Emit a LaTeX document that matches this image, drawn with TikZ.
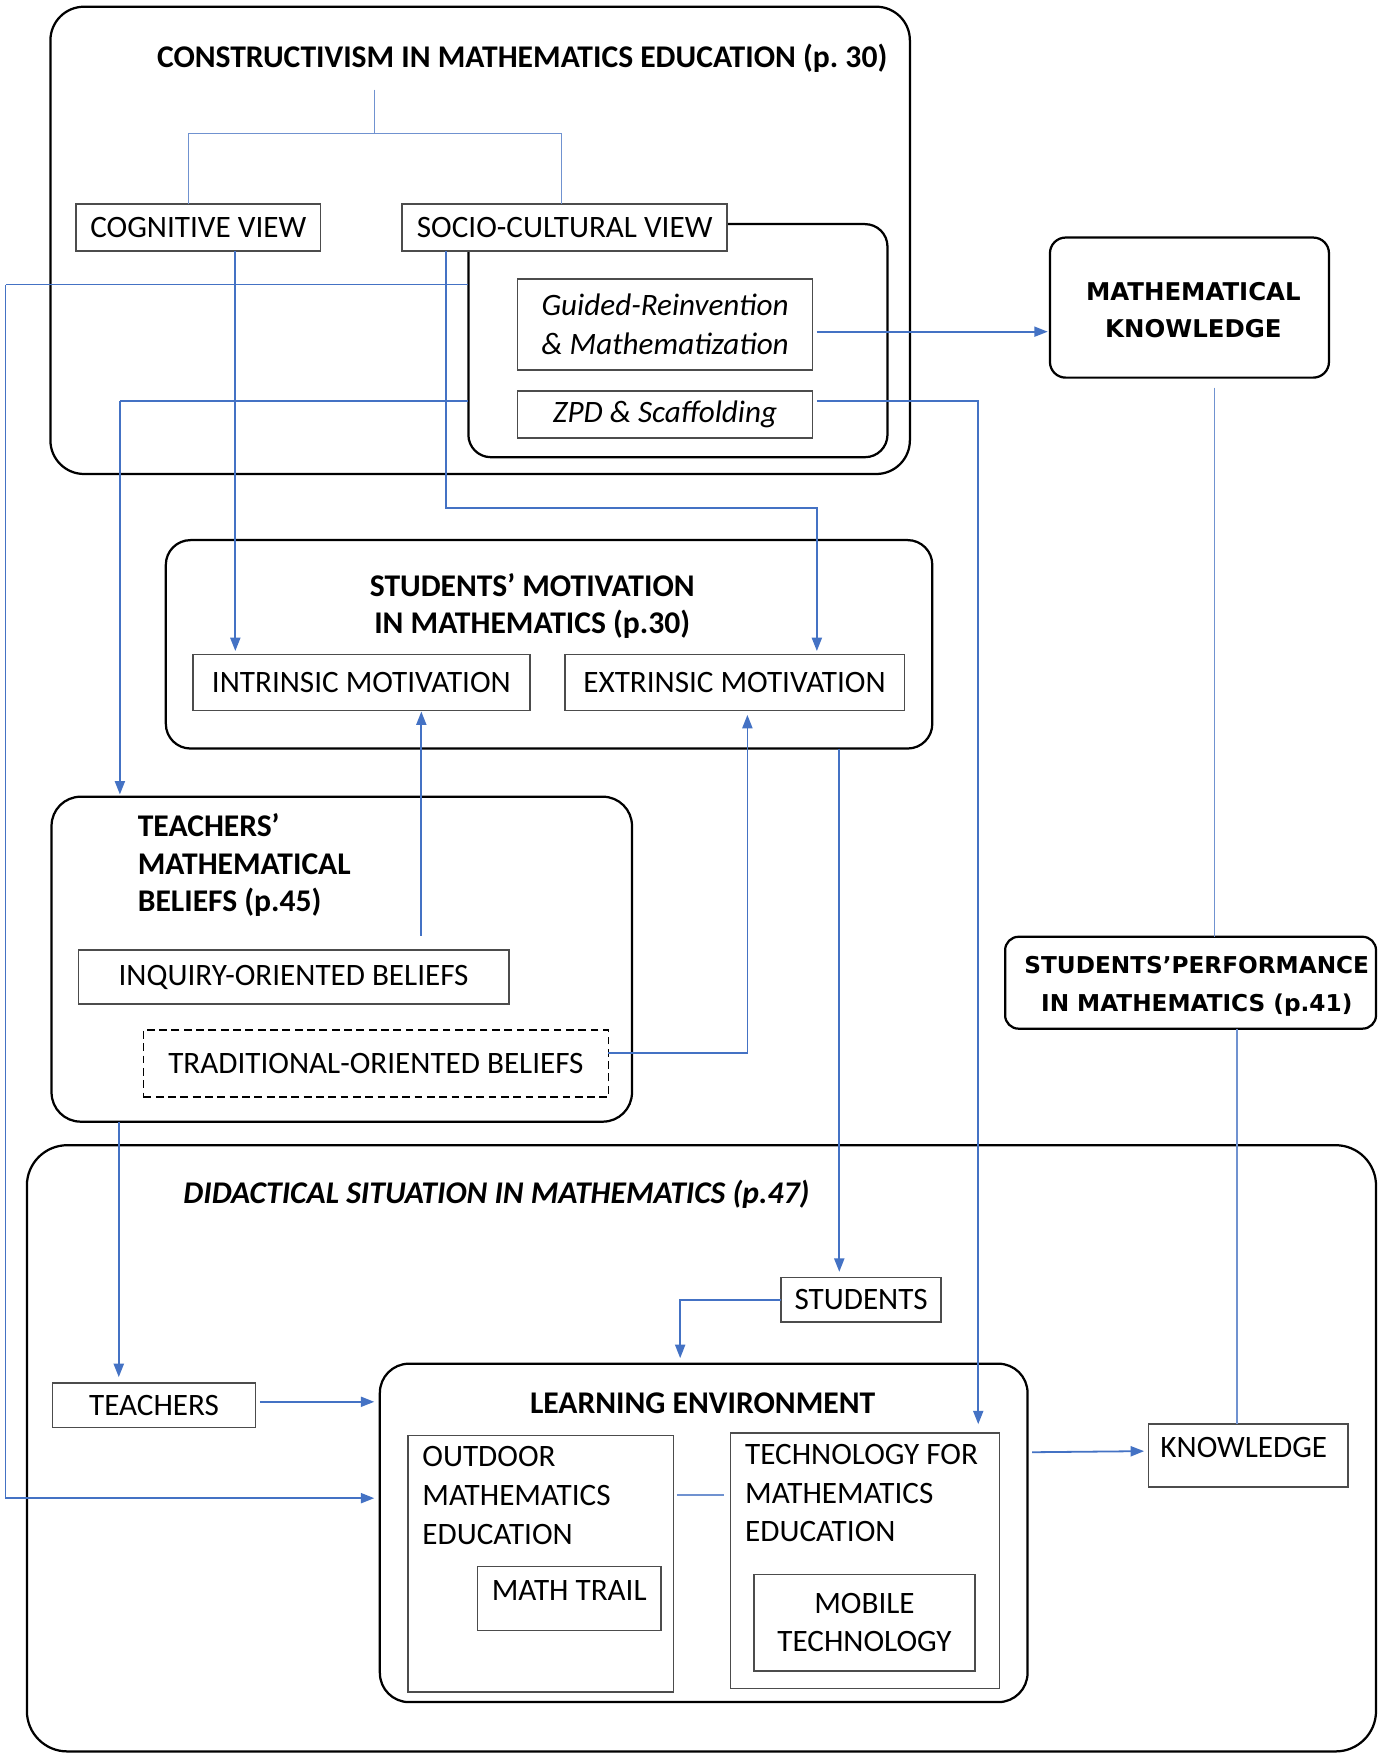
\documentclass[tikz,border=0pt]{standalone}
\usepackage{fontspec}
\setmainfont{Carlito}
\newfontfamily\widefont{DejaVu Sans}
\usetikzlibrary{arrows.meta,calc}
\definecolor{cblue}{RGB}{68,114,196}
\definecolor{lblue}{RGB}{112,146,208}
\newcommand\regfont{\fontsize{27.8}{34.5}\selectfont}
\newcommand\titfont{\fontsize{28.2}{33.5}\selectfont\bfseries}
\newcommand\widetit{\fontsize{20.7}{34}\selectfont\widefont\bfseries}
\newcommand\widemk{\fontsize{21.8}{33}\selectfont\widefont\bfseries}
\begin{document}
\begin{tikzpicture}[x=1pt,y=-1pt,
  every node/.style={inner sep=0pt,outer sep=0pt},
  rframe/.style={draw=black,line width=2pt,rounded corners=#1,anchor=north west},
  rframe/.default=20pt,
  sbox/.style={draw=black!70,line width=1.4pt,fill=white,anchor=north west,font=\regfont,align=center},
  txt/.style={font=\regfont},
  conn/.style={draw=cblue,line width=1.6pt},
  arr/.style={conn,-{Triangle[length=12pt,width=9pt]}},
  thinc/.style={draw=lblue,line width=1.1pt},
]
\fill[white] (0,0) rectangle (1233,1568);
\useasboundingbox (0,0) rectangle (1233,1568);

% ---------- frames ----------
\node[rframe=30pt,minimum width=767pt,minimum height=417pt] (constr) at (45,6) {};
\node[rframe=20pt,minimum width=374pt,minimum height=208pt] (inner) at (418,200) {};
\node[rframe=14pt,minimum width=249pt,minimum height=125pt] (mk) at (937,212) {};
\node[rframe=22pt,minimum width=684pt,minimum height=186pt] (motiv) at (148,482) {};
\node[rframe=26pt,minimum width=518pt,minimum height=290pt] (beliefs) at (46,711) {};
\node[rframe=12pt,minimum width=331pt,minimum height=82pt] (perf) at (897,836) {};
\node[rframe=36pt,minimum width=1204pt,minimum height=541pt] (didac) at (24,1022) {};
\node[rframe=26pt,minimum width=578pt,minimum height=302pt] (le) at (339,1217) {};

% ---------- titles ----------
\node[font=\titfont] (ctitle) at (466,52) {CONSTRUCTIVISM IN MATHEMATICS EDUCATION (p.~30)};
\node[font=\widemk,align=center] (mktext) at (1065,277) {MATHEMATICAL\\KNOWLEDGE};
\node[font=\titfont,align=center] (mtitle) at (475,541) {STUDENTS’ MOTIVATION\\IN MATHEMATICS (p.30)};
\node[font=\titfont,align=left,anchor=west] (btitle) at (123,772) {TEACHERS’\\MATHEMATICAL\\BELIEFS (p.45)};
\node[font=\widetit,align=center] (ptitle) at (1068,880) {STUDENTS’PERFORMANCE\\IN MATHEMATICS (p.41)};
\node[font=\titfont\itshape] (dtitle) at (443,1066) {DIDACTICAL SITUATION IN MATHEMATICS (p.47)};
\node[font=\titfont] (ltitle) at (627,1252) {LEARNING ENVIRONMENT};

% ---------- boxes ----------
\node[sbox,minimum width=218pt,minimum height=42pt] (cog) at (68,182) {COGNITIVE VIEW};
\node[sbox,minimum width=290pt,minimum height=42pt] (socio) at (359,182) {SOCIO-CULTURAL VIEW};
\node[sbox,minimum width=263pt,minimum height=81pt,font=\regfont\itshape] (guided) at (462,249) {Guided-Reinvention\\\& Mathematization};
\node[sbox,minimum width=263pt,minimum height=42pt,font=\regfont\itshape] (zpd) at (462,349) {ZPD \& Scaffolding};
\node[sbox,minimum width=301pt,minimum height=50pt] (intr) at (172,584) {INTRINSIC MOTIVATION};
\node[sbox,minimum width=303pt,minimum height=50pt] (extr) at (504,584) {EXTRINSIC MOTIVATION};
\node[sbox,minimum width=384pt,minimum height=48pt] (inq) at (70,848) {INQUIRY-ORIENTED BELIEFS};
\node[sbox,draw=black,line width=1.3pt,dash pattern=on 7pt off 4pt,minimum width=415pt,minimum height=60pt] (trad) at (128,919) {TRADITIONAL-ORIENTED BELIEFS};
\node[sbox,minimum width=143pt,minimum height=40pt] (students) at (697,1140) {STUDENTS};
\node[sbox,minimum width=181pt,minimum height=40pt] (teachers) at (47,1234) {TEACHERS};
\node[sbox,minimum width=237pt,minimum height=229pt] (outdoor) at (364,1281) {};
\node[sbox,minimum width=164pt,minimum height=57pt] (trail) at (426,1398) {};
\node[sbox,minimum width=240pt,minimum height=228pt] (tech) at (652,1279) {};
\node[sbox,minimum width=197pt,minimum height=86pt] (mobile) at (673,1405) {MOBILE\\TECHNOLOGY};
\node[sbox,minimum width=178pt,minimum height=56pt] (know) at (1025,1271) {};

\node[txt,align=left,anchor=north west] (outtext) at (377,1291) {OUTDOOR\\MATHEMATICS\\EDUCATION};
\node[txt] (trailtext) at (508,1419) {MATH TRAIL};
\node[txt,align=left,anchor=north west] (techtext) at (665,1289) {TECHNOLOGY FOR\\MATHEMATICS\\EDUCATION};
\node[txt] (knowtext) at (1110,1292) {KNOWLEDGE};

% ---------- helper coordinates ----------
\coordinate (tA) at (334,80);
\coordinate (tB) at (334,119);
\coordinate (cogL) at ([xshift=-9pt]cog.north);
\coordinate (socL) at ([xshift=-3pt]socio.north);
\coordinate (cogD) at ([xshift=33pt]cog.south);
\coordinate (socD) at ([xshift=-106pt]socio.south);
\coordinate (sbend) at (729,453);
\coordinate (guiO) at ([xshift=4pt,yshift=-6.5pt]guided.east);
\coordinate (zpdO) at ([xshift=4pt,yshift=12pt]zpd.east);
\coordinate (techI) at ([xshift=101pt]tech.north);
\coordinate (inA) at ([yshift=50pt]inner.west);
\coordinate (lft) at (5,254);
\coordinate (leI) at ([yshift=31pt]le.west);
\coordinate (inB) at ([yshift=-54pt]inner.west);
\coordinate (lb) at (107,358);
\coordinate (inqO) at ([xshift=114pt,yshift=13pt]inq.north);
\coordinate (tradO) at ([yshift=9pt]trad.east);
\coordinate (extI) at ([xshift=11.5pt]extr.south);
\coordinate (stuI) at ([xshift=-19.5pt]students.north);
\coordinate (mkO) at ([xshift=22.5pt,yshift=-9pt]mk.south);
\coordinate (knI) at ([xshift=-10pt]know.north);
\coordinate (teaI) at ([xshift=-31.5pt]teachers.north);
\coordinate (leT) at ([xshift=-21pt]le.north);
\coordinate (teaO) at ([xshift=4pt,yshift=3pt]teachers.east);
\coordinate (outO) at ([xshift=3pt,yshift=61.5pt]outdoor.east);
\coordinate (leO) at ([xshift=4pt,yshift=72pt]le.east);

% ---------- connectors ----------
\draw[thinc] (tA) -- (tB);
\draw[thinc] (tB) -| (cogL);
\draw[thinc] (tB) -| (socL);
\draw[arr,shorten >=3pt] (cogD) -- (cogD |- intr.north);
\draw[arr,shorten >=3pt] (socD) |- (sbend) -- (sbend |- extr.north);
\draw[arr,shorten >=2pt] (guiO) -- (guiO -| mk.west);
\draw[arr,shorten >=8pt] (zpdO) -| (techI);
\draw[conn,line width=1.3pt] (inA) -- (lft);
\draw[arr,shorten >=5pt] (lft) |- (leI);
\draw[conn,line width=1.3pt] (inB) -- (lb);
\draw[arr,shorten >=2pt] (lb) -- (lb |- beliefs.north);
\draw[arr,shorten >=1pt] (inqO) -- (inqO |- intr.south);
\draw[arr,shorten >=4pt] (tradO) -| (extI);
\draw[arr,shorten >=5pt] (motiv.south -| stuI) -- (stuI);
\draw[thinc] (mkO) -- (mkO |- perf.north);
\draw[thinc] (perf.south -| knI) -- (knI);
\draw[arr,shorten >=5pt] (beliefs.south -| teaI) -- (teaI);
\draw[arr,shorten >=5pt] (students.west) -| (leT);
\draw[arr,shorten >=5pt] (teaO) -- (teaO -| le.west);
\draw[thinc,line width=1.6pt,shorten >=6pt] (outO) -- (outO -| tech.west);
\draw[arr,shorten >=4pt] (leO) -- ([yshift=4pt]know.west);
\end{tikzpicture}
\end{document}
